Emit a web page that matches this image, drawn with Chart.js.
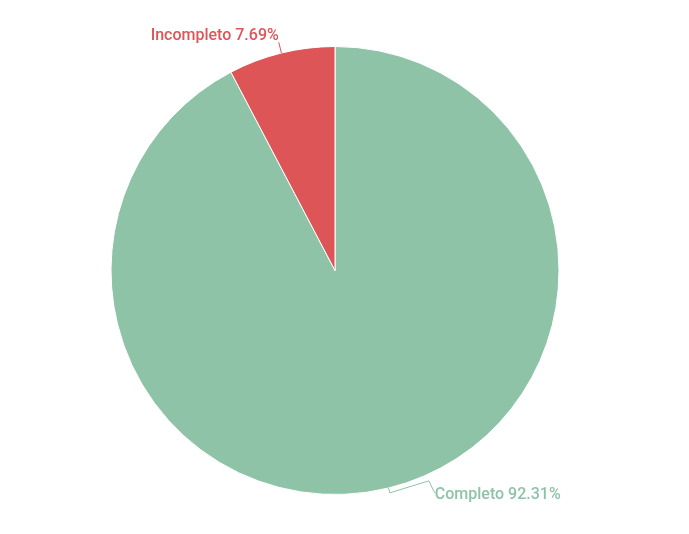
<!DOCTYPE html>
<html>
<head>
<meta charset="utf-8">
<script src="https://cdn.jsdelivr.net/npm/chart.js@4"></script>
<style>
  html, body { margin: 0; padding: 0; background: #fff; }
  #wrap { width: 689px; height: 534px; }
</style>
</head>
<body>
<div id="wrap"><canvas id="pieChart"></canvas></div>
<script>
const labels = ['Completo', 'Incompleto'];
const values = [92.31, 7.69];
const colors = ['#8ec3a7', '#dd5557'];

// draws the "name value%" labels with leader lines
const sliceLabels = {
  id: 'sliceLabels',
  afterDatasetsDraw(chart) {
    const ctx = chart.ctx;
    const meta = chart.getDatasetMeta(0);
    meta.data.forEach(function(arc, i) {
      const mid = (arc.startAngle + arc.endAngle) / 2;
      const r = arc.outerRadius;
      const cx = arc.x, cy = arc.y;
      const ex = cx + Math.cos(mid) * r, ey = cy + Math.sin(mid) * r;
      const txt = labels[i] + ' ' + values[i].toFixed(2) + '%';
      ctx.save();
      ctx.strokeStyle = colors[i];
      ctx.fillStyle = colors[i];
      ctx.lineWidth = 1;
      ctx.textBaseline = 'middle';
      ctx.font = '500 16px Roboto';
      ctx.beginPath();
      ctx.moveTo(ex, ey);
      if (i === 0) {
        const ox = cx + Math.cos(mid) * (r + 5), oy = cy + Math.sin(mid) * (r + 5);
        ctx.lineTo(ox, oy);
        ctx.lineTo(ox + 39, oy - 12);
        ctx.lineTo(ox + 45, oy);
        ctx.stroke();
        ctx.textAlign = 'left';
        ctx.fillText(txt, ox + 45, oy + 2);
      } else {
        const ox = cx + Math.cos(mid) * (r + 11), oy = cy + Math.sin(mid) * (r + 11);
        ctx.lineTo(ox, oy);
        ctx.stroke();
        ctx.textAlign = 'right';
        ctx.fillText(txt, ox, oy - 6);
      }
      ctx.restore();
    });
  }
};

new Chart(document.getElementById('pieChart'), {
  type: 'pie',
  data: {
    labels: labels,
    datasets: [{
      data: values,
      backgroundColor: colors,
      borderColor: '#ffffff',
      borderWidth: 1
    }]
  },
  options: {
    responsive: true,
    maintainAspectRatio: false,
    animation: false,
    layout: { padding: { left: 100, right: 119, top: 46, bottom: 39 } },
    plugins: {
      legend: { display: false },
      tooltip: { enabled: false }
    }
  },
  plugins: [sliceLabels]
});
</script>
</body>
</html>
